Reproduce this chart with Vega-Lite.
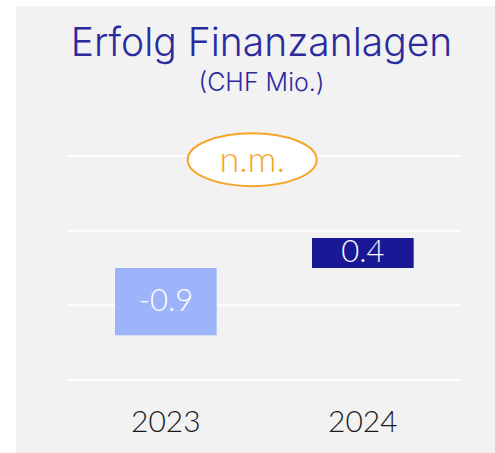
{
  "$schema": "https://vega.github.io/schema/vega-lite/v6.json",
  "width": 479,
  "height": 447,
  "padding": {"left": 16, "top": 6, "right": 0, "bottom": 0},
  "autosize": {"type": "none"},
  "background": "white",
  "config": {"view": {"fill": "#f2f2f2", "stroke": null}, "font": "Lato"},
  "title": {
    "text": "Erfolg Finanzanlagen",
    "subtitle": "(CHF Mio.)",
    "font": "Inter",
    "fontSize": 39,
    "fontWeight": 300,
    "color": "#2b2b9e",
    "subtitleFont": "Inter",
    "subtitleFontSize": 25,
    "subtitleFontWeight": 300,
    "subtitleColor": "#2b2b9e",
    "subtitlePadding": 7,
    "anchor": "middle",
    "offset": -90,
    "dx": 6
  },
  "datasets": {
    "bars": [
      {"year": "2023", "value": -0.9, "label": "-0.9"},
      {"year": "2024", "value": 0.4, "label": "0.4"}
    ],
    "grid": [{"level": -1.5}, {"level": -0.5}, {"level": 0.5}, {"level": 1.5}],
    "notes": [{"pos": 0.47, "level": 1.45, "text": "n.m."}]
  },
  "layer": [
    {
      "layer": [
        {
          "data": {"name": "grid"},
          "mark": {"type": "rule", "color": "white", "strokeWidth": 2},
          "encoding": {
            "x": {"datum": 0, "type": "quantitative", "scale": {"domain": [-0.12944, 1.08629], "nice": false, "zero": false}, "axis": null},
            "x2": {"datum": 1},
            "y": {"field": "level", "type": "quantitative", "scale": {"domain": [-2.478, 3.509], "nice": false, "zero": false}, "axis": null}
          }
        },
        {
          "data": {"name": "notes"},
          "mark": {"type": "point", "shape": "M-1,0A1,0.41,0,1,1,1,0A1,0.41,0,1,1,-1,0Z", "size": 16641, "filled": true, "fill": "white", "stroke": "#f5a52a", "strokeWidth": 2, "opacity": 1},
          "encoding": {
            "x": {"field": "pos", "type": "quantitative", "scale": {"domain": [-0.12944, 1.08629], "nice": false, "zero": false}, "axis": null},
            "y": {"field": "level", "type": "quantitative", "scale": {"domain": [-2.478, 3.509], "nice": false, "zero": false}, "axis": null}
          }
        },
        {
          "data": {"name": "notes"},
          "mark": {"type": "text", "font": "Lato", "fontSize": 36, "fontWeight": 300, "color": "#f5a52a", "baseline": "alphabetic", "align": "center", "dy": 12},
          "encoding": {
            "x": {"field": "pos", "type": "quantitative", "scale": {"domain": [-0.12944, 1.08629], "nice": false, "zero": false}, "axis": null},
            "y": {"field": "level", "type": "quantitative", "scale": {"domain": [-2.478, 3.509], "nice": false, "zero": false}, "axis": null},
            "text": {"field": "text"}
          }
        }
      ]
    },
    {
      "data": {"name": "bars"},
      "encoding": {
        "x": {
          "field": "year",
          "type": "nominal",
          "scale": {"paddingInner": 0.4838, "paddingOuter": 0.4577, "align": 0.549},
          "axis": {"orient": "bottom", "title": null, "labelAngle": 0, "domain": false, "ticks": false, "grid": false, "labelFont": "Lato", "labelFontSize": 30, "labelFontWeight": 300, "labelColor": "#1a1a1a", "labelBaseline": "middle", "labelPadding": 0, "offset": -31}
        }
      },
      "layer": [
        {
          "mark": {"type": "bar"},
          "encoding": {
            "y": {"field": "value", "type": "quantitative", "scale": {"domain": [-2.478, 3.509], "nice": false, "zero": false}, "axis": null},
            "y2": {"datum": 0},
            "color": {"field": "year", "type": "nominal", "scale": {"range": ["#9db4fa", "#1b1896"]}, "legend": null}
          }
        },
        {
          "transform": [{"calculate": "datum.value / 2", "as": "mid"}],
          "mark": {"type": "text", "font": "Lato", "fontSize": 31, "fontWeight": 300, "color": "white", "baseline": "middle", "align": "center"},
          "encoding": {
            "y": {"field": "mid", "type": "quantitative", "scale": {"domain": [-2.478, 3.509], "nice": false, "zero": false}, "axis": null},
            "text": {"field": "label"}
          }
        }
      ]
    }
  ],
  "resolve": {"scale": {"x": "independent"}}
}
